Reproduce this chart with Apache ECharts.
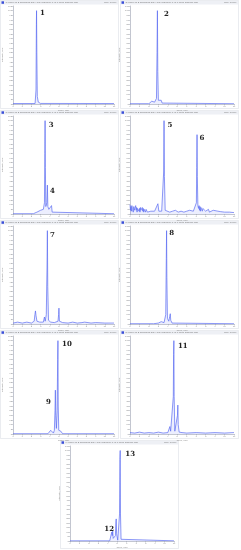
<!DOCTYPE html>
<html><head><meta charset="utf-8">
<script src="https://cdn.jsdelivr.net/npm/echarts@6/dist/echarts.min.js"></script>
<style>html,body{margin:0;padding:0;background:#fff}#c{width:241px;height:550px}</style>
</head><body><div id="c"></div>
<script>
// ---- data (time in min, intensity in % of max) ----
const t1 = [0, 2.4, 2.5, 2.54, 2.56, 2.59, 2.64, 2.75, 3.0, 11];
const i1 = [0.5, 0.5, 15, 85, 100, 55, 8, 2, 0.6, 0.5];

const t2 = [0, 2.0, 2.1, 2.2, 2.3, 2.4, 2.5, 2.6, 2.7, 2.8, 2.86, 2.9, 2.94, 3.0, 3.1, 3.2, 3.3, 3.4, 3.5, 3.6, 11];
const i2 = [0.3, 0.3, 2, 1, 3, 2, 4, 2, 3, 6, 55, 100, 35, 4, 6, 2, 4, 1, 2, 0.3, 0.3];

const t3 = [0, 2.2, 2.6, 3.0, 3.3, 3.42, 3.46, 3.49, 3.52, 3.57, 3.68, 3.74, 3.79, 3.9, 4.0, 4.1, 4.19, 4.26, 4.4, 11];
const i3 = [0.3, 0.3, 2, 4, 5, 12, 65, 100, 50, 8, 12, 31, 8, 5, 6, 4, 9, 2, 0.3, 0.3];

const t4 = [0,0.05,0.1,0.15,0.2,0.25,0.3,0.35,0.4,0.45,0.5,0.55,0.6,0.65,0.7,0.75,0.8,0.85,0.9,0.95,1.0,1.05,1.1,1.15,1.2,1.25,1.3,1.35,1.4,1.45,1.5,1.55,1.6,1.65,1.7,1.75,1.8,1.85,1.9,1.95,2.0,2.2,2.4,2.6,2.8,2.95,3.05,3.2,3.35,3.5,3.56,3.6,3.64,3.72,3.9,4.2,4.5,4.8,5.1,5.4,5.7,6.0,6.3,6.5,6.7,6.9,7.02,7.06,7.09,7.12,7.18,7.25,7.3,7.35,7.4,7.45,7.5,7.55,7.6,7.65,7.7,7.8,7.9,8.0,8.1,8.2,8.3,8.4,8.5,8.6,8.8,9.0,9.3,9.6,10,10.5,11];
const i4 = [10,4,8,3,9,5,7,2,8,4,6,3,9,4,7,2,6,5,8,3,6,2,7,4,5,2,7,3,6,2,5,4,6,2,5,3,6,2,4,3,2,3,1.5,3,2,11,3,2,3,3,45,100,40,4,3,2,3,4,2,3,2,3,4,6,3,4,12,50,85,40,9,6,9,4,8,3,7,5,8,3,6,4,6,3,5,3,5,2,4,3,4,3,3,2.5,2,2,1.5,1.5];

const t5 = [0,0.5,1,1.5,2.0,2.3,2.38,2.44,2.5,2.6,2.75,2.9,3.1,3.3,3.42,3.5,3.62,3.7,3.74,3.78,3.86,4.1,4.5,4.9,4.96,5.0,5.05,5.4,6,6.5,7,7.5,7.8,7.86,7.95,8.5,9,10,11];
const i5 = [1,2,1,2,1,3,10,14,9,3,5,2,3,2,7.5,3,10,60,100,40,4,2,1.5,3,10,17,3,1.5,1,2,1,1.5,2,4,1.5,1,1.5,1,1];

const t6 = [0,2.5,3.0,3.2,3.3,3.4,3.6,3.78,3.84,3.87,3.9,3.96,4.1,4.2,4.26,4.31,4.45,4.6,11];
const i6 = [0.3,0.3,1,2,2.5,2,1.5,10,70,100,50,6,3,8,11,4,1,0.3,0.3];

const t7 = [0,3.8,4.0,4.1,4.2,4.3,4.4,4.5,4.57,4.61,4.65,4.72,4.8,4.86,4.89,4.92,4.98,5.1,5.2,5.4,11];
const i7 = [0.3,0.3,2,4,2,3.5,1,4,25,47,20,6,25,80,100,30,4,2,3,0.3,0.3];

const t8 = [0,0.5,1,1.5,2,2.5,3,3.5,4.0,4.15,4.22,4.26,4.3,4.45,4.58,4.61,4.64,4.67,4.74,4.9,5.02,5.06,5.1,5.2,5.5,6,7,8,9,10,11];
const i8 = [1.5,1,2,1,1.5,1,2,1,1.5,3,8,9,3,1.5,40,85,100,40,3,2,20,31,10,2,1.5,1,1.5,1,1.5,1,1.5];

const t9 = [0,4.2,4.35,4.42,4.47,4.52,4.57,4.63,4.7,4.8,4.86,4.89,4.93,5.05,5.24,5.28,5.31,5.34,5.4,5.6,11];
const i9 = [0.3,0.3,2,10,6,11,3,1,1,6,22,24.5,8,1,30,90,100,30,2,0.3,0.3];

// peak labels: [panel, label, time, intensity]
const peakLabels = [
  [0,'1',2.56,100],[1,'2',2.9,100],[2,'3',3.49,100],[2,'4',3.74,31],
  [3,'5',3.6,100],[3,'6',7.09,85],[4,'7',3.74,100],[5,'8',3.87,100],
  [6,'10',4.89,100],[6,'9',4.61,47],[7,'11',4.64,100],[8,'13',5.31,100],[8,'12',4.89,24.5]
];
const xTicks = [0,1,2,3,4,5,6,7,8,9,10,11];
const headerText = 'MRM of 2 Channels ES+ TIC (Sample) 1 of 1 from Sample.wiff';
// ---------------------------------------------------

const traces = [[t1,i1],[t2,i2],[t3,i3],[t4,i4],[t5,i5],[t6,i6],[t7,i7],[t8,i8],[t9,i9]];
const panelPos = [[0,0],[120,0],[0,110],[120,110],[0,220],[120,220],[0,330],[120,330],[60,440]];
// label pixel offsets relative to the peak apex
const labelOffsets = [[6,3],[9,4],[6,5],[5,6],[6,5],[5,4],[5,5],[5,3],[9,4],[-7,12],[9,6],[10,4],[-7,10]];

const grid=[], xAxis=[], yAxis=[], series=[], graphic=[];
const color='#5a6cf2';
traces.forEach(([t,v],k)=>{
  const [pl,pt]=panelPos[k];
  grid.push({left:pl+10, top:pt+6, width:104, height:98});
  xAxis.push({type:'value', gridIndex:k, min:0, max:11, interval:1,
    axisLine:{lineStyle:{color:'#9aa0b0',width:0.6}},
    axisTick:{length:1.5,lineStyle:{color:'#9aa0b0',width:0.5}},
    axisLabel:{fontSize:2.5,color:'#999',margin:1},
    splitLine:{show:false},
    name:'Time, min', nameLocation:'middle', nameGap:4, nameTextStyle:{fontSize:2.5,color:'#888'}});
  yAxis.push({type:'value', gridIndex:k, min:0, max:105, interval:5,
    axisLine:{show:true,lineStyle:{color:'#9aa0b0',width:0.6}},
    axisTick:{show:true,length:1.5,lineStyle:{color:'#9aa0b0',width:0.5}},
    axisLabel:{fontSize:2.5,color:'#999',margin:1},
    splitLine:{show:false},
    name:'Intensity, cps', nameLocation:'middle', nameGap:6, nameTextStyle:{fontSize:2.5,color:'#888'}});
  const mp = peakLabels.map((p,j)=>[p,j]).filter(([p])=>p[0]===k).map(([p,j])=>({
    coord:[p[2],p[3]], symbolSize:0,
    label:{show:true, formatter:p[1], position:'inside', offset:labelOffsets[j],
      fontSize:7, fontWeight:'bold', color:'#222', fontFamily:'DejaVu Serif'}
  }));
  series.push({type:'line', xAxisIndex:k, yAxisIndex:k, data:t.map((x,i)=>[x,v[i]]),
    showSymbol:false, symbol:'none', smooth:false, animation:false,
    lineStyle:{color:color,width:0.7},
    areaStyle:{color:'rgba(120,135,245,0.2)'},
    markPoint:{data:mp, symbol:'circle', symbolSize:0, animation:false}});
  // panel frame and header bar
  graphic.push({type:'rect', shape:{x:pl+0.5,y:pt+0.5,width:118,height:108},
    style:{fill:'none',stroke:'#dcdfe6',lineWidth:0.6}, silent:true});
  graphic.push({type:'rect', shape:{x:pl+1,y:pt+1,width:117,height:3.5},
    style:{fill:'#eef0f5'}, silent:true});
  graphic.push({type:'rect', shape:{x:pl+1.5,y:pt+1.3,width:2.5,height:2.5},
    style:{fill:'#3b4fd8'}, silent:true});
  graphic.push({type:'text', x:pl+5.5, y:pt+1.3,
    style:{text:(k+1)+': '+headerText, fontSize:2.5, fill:'#777'}, silent:true});
  graphic.push({type:'text', x:pl+104, y:pt+1.3,
    style:{text:'Max. 100%', fontSize:2.5, fill:'#777'}, silent:true});
});

const chart = echarts.init(document.getElementById('c'), null, {renderer:'canvas'});
chart.setOption({animation:false, grid, xAxis, yAxis, series, graphic});
</script></body></html>
